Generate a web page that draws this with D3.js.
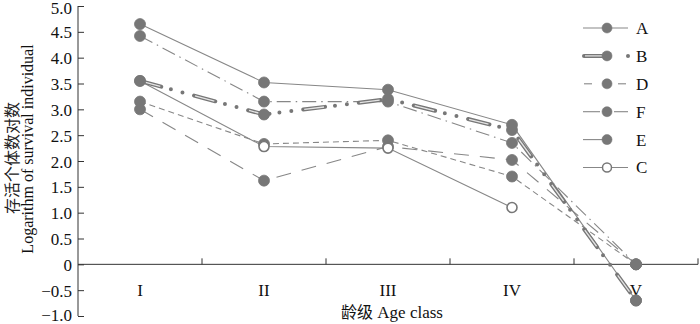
<!DOCTYPE html>
<html><head><meta charset="utf-8">
<script src="https://cdn.jsdelivr.net/npm/d3@7/dist/d3.min.js"></script>
<style>body{margin:0;background:#fff}svg{display:block}</style>
</head><body>
<svg id="c" width="700" height="324"></svg>
<script>
const categories = ["I","II","III","IV","V"];
const seriesA = [4.65, 3.52, 3.38, 2.70, -0.70];
const seriesB = [3.55, 2.90, 3.20, 2.60, -0.70];
const seriesD = [3.15, 2.33, 2.40, 1.70, 0];
const seriesF = [4.42, 3.15, 3.15, 2.35, 0];
const seriesE = [3.00, 1.62, 2.28, 2.02, 0];
const seriesC = [3.55, 2.28, 2.25, 1.10, null];
const yTicks = [-1.0,-0.5,0,0.5,1.0,1.5,2.0,2.5,3.0,3.5,4.0,4.5,5.0];
const legendNames = ["A","B","D","F","E","C"];

const svg = d3.select("#c");
const gray = "#777777", lineGray = "#878787";
const x = d3.scaleBand().domain(categories).range([78, 698]);
const y = d3.scaleLinear().domain([-1, 5]).range([316, 6]);
const cx = d => x(d) + x.bandwidth()/2;
const serif = "'Liberation Serif','Times New Roman',serif";

// Y axis
const yAxis = svg.append("g").attr("transform","translate(78,0)")
  .call(d3.axisRight(y).tickValues(yTicks).tickSize(6)
    .tickFormat(d => d === 0 ? "0" : (d < 0 ? "\u2212" + Math.abs(d).toFixed(1) : d.toFixed(1))));
yAxis.select(".domain").attr("d","M0,6V316").attr("stroke","#333");
yAxis.selectAll(".tick line").attr("stroke","#333");
yAxis.selectAll(".tick text").attr("x",-6).attr("text-anchor","end")
  .attr("dy", d => d === 5 ? "0.46em" : (d === -1 ? "0.26em" : "0.36em"))
  .style("font-family",serif).style("font-size","17px").attr("fill","#111");

// X axis at y=0
const xAxis = svg.append("g").attr("transform",`translate(0,${y(0)})`);
xAxis.append("line").attr("x1",78).attr("x2",698).attr("stroke","#333");
const bounds = categories.map(c => x(c) + x.bandwidth());
xAxis.selectAll("line.t").data(bounds).enter().append("line").attr("class","t")
  .attr("x1",d=>d).attr("x2",d=>d).attr("y1",0).attr("y2",-6).attr("stroke","#333");
svg.selectAll("text.cat").data(categories).enter().append("text").attr("class","cat")
  .attr("x",d=>cx(d)).attr("y",296).attr("text-anchor","middle")
  .style("font-family",serif).style("font-size","17px").attr("fill","#111").text(d=>d);

// axis titles
const xt = svg.append("text").attr("x",392).attr("y",318).attr("text-anchor","middle")
  .style("font-size","17px").attr("fill","#111");
xt.append("tspan").style("font-family","'Noto Sans CJK SC'").style("font-size","16px").text("龄级");
xt.append("tspan").style("font-family",serif).text(" Age class");
svg.append("text").attr("transform","translate(18,158) rotate(-90)").attr("text-anchor","middle")
  .style("font-family","'Noto Sans CJK SC'").style("font-size","16px").attr("fill","#222").text("存活个体数对数");
svg.append("text").attr("transform","translate(33,149) rotate(-90)").attr("text-anchor","middle")
  .style("font-family",serif).style("font-size","16px").attr("fill","#111").text("Logarithm of survival individual");

const series = [
  {name:"A", vals:seriesA, dash:null},
  {name:"F", vals:seriesF, dash:"14,5,1.5,5"},
  {name:"D", vals:seriesD, dash:"6,4"},
  {name:"E", vals:seriesE, dash:"15,11"},
  {name:"C", vals:seriesC, dash:null, open:true},
  {name:"B", vals:seriesB, special:true},
];
const line = d3.line().defined(d=>d.v!==null).x(d=>cx(d.c)).y(d=>y(d.v));
series.forEach(s => {
  const pts = categories.map((c,i)=>({c, v:s.vals[i]}));
  if (s.special) {
    svg.append("path").datum(pts).attr("d",line).attr("fill","none").attr("stroke",gray)
      .attr("stroke-width",4).attr("stroke-linecap","round").attr("stroke-dasharray","22,10,0,12,0,12");
    svg.append("path").datum(pts).attr("d",line).attr("fill","none").attr("stroke","#e4e4e4")
      .attr("stroke-width",1.3).attr("stroke-dasharray","20,36").attr("stroke-dashoffset",-1);
  } else {
    svg.append("path").datum(pts).attr("d",line).attr("fill","none").attr("stroke",lineGray)
      .attr("stroke-width",1.1).attr("stroke-dasharray",s.dash);
  }
});
series.forEach(s => {
  const pts = categories.map((c,i)=>({c, v:s.vals[i]})).filter(d=>d.v!==null);
  svg.selectAll(null).data(pts).enter().append("circle")
    .attr("cx",d=>cx(d.c)).attr("cy",d=>y(d.v)).attr("r", s.open?5:5.5)
    .attr("fill", s.open?"#fff":gray).attr("stroke",gray).attr("stroke-width",s.open?1.6:0.8);
});

// legend
const lg = svg.append("g");
legendNames.forEach((n,i) => {
  const yy = 28 + i*27.9;
  const g = lg.append("g");
  if (n==="A" || n==="C") g.append("line").attr("x1",583).attr("x2",628).attr("y1",yy).attr("y2",yy).attr("stroke",lineGray).attr("stroke-width",1.1);
  if (n==="B") {
    g.append("line").attr("x1",584).attr("x2",605).attr("y1",yy).attr("y2",yy).attr("stroke",gray).attr("stroke-width",4).attr("stroke-linecap","round");
    g.append("line").attr("x1",585).attr("x2",603).attr("y1",yy).attr("y2",yy).attr("stroke","#e4e4e4").attr("stroke-width",1.2);
    g.append("circle").attr("cx",628).attr("cy",yy).attr("r",2).attr("fill",gray);
  }
  if (n==="D") {
    g.append("line").attr("x1",584).attr("x2",592).attr("y1",yy).attr("y2",yy).attr("stroke",lineGray).attr("stroke-width",1.1);
    g.append("line").attr("x1",618).attr("x2",626).attr("y1",yy).attr("y2",yy).attr("stroke",lineGray).attr("stroke-width",1.1);
  }
  if (n==="F") {
    g.append("line").attr("x1",583).attr("x2",600).attr("y1",yy).attr("y2",yy).attr("stroke",lineGray).attr("stroke-width",1.1);
    g.append("line").attr("x1",614).attr("x2",628).attr("y1",yy).attr("y2",yy).attr("stroke",lineGray).attr("stroke-width",1.1);
  }
  if (n==="E") g.append("line").attr("x1",583).attr("x2",612).attr("y1",yy).attr("y2",yy).attr("stroke",lineGray).attr("stroke-width",1.1);
  g.append("circle").attr("cx",607).attr("cy",yy).attr("r",n==="C"?4.5:5)
    .attr("fill",n==="C"?"#fff":gray).attr("stroke",gray).attr("stroke-width",n==="C"?1.5:0.6);
  g.append("text").attr("x",636).attr("y",yy).attr("dy","0.35em")
    .style("font-family",serif).style("font-size","17px").attr("fill","#111").text(n);
});
</script>
</body></html>
